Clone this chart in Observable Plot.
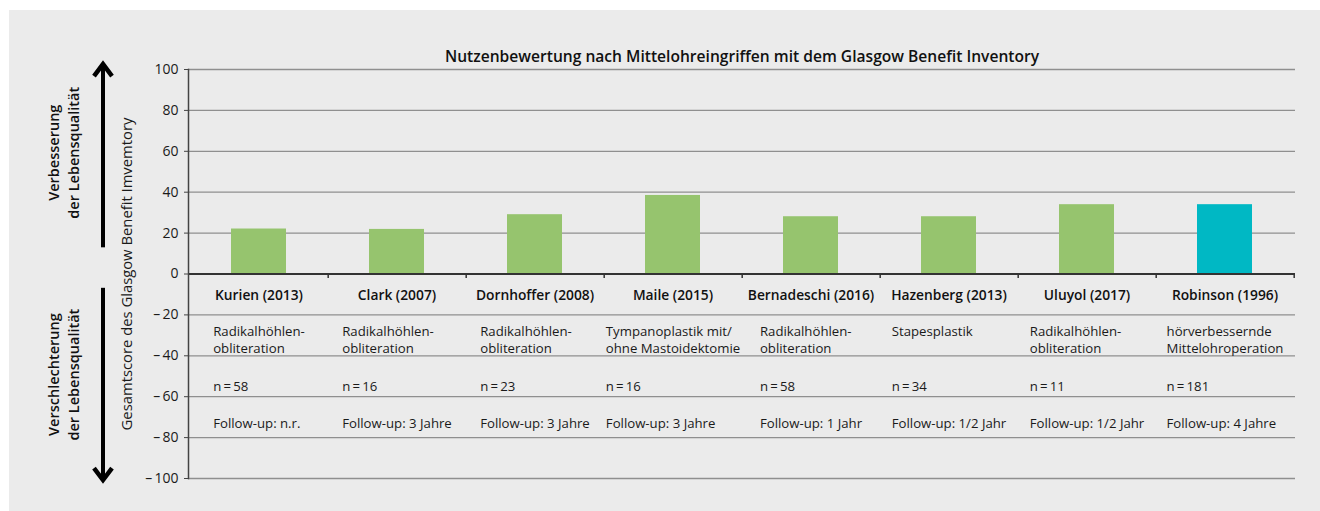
<!DOCTYPE html>
<html>
<head>
<meta charset="utf-8">
<script src="https://cdn.jsdelivr.net/npm/d3@7"></script>
<script src="https://cdn.jsdelivr.net/npm/@observablehq/plot@0.6"></script>
<style>
  html, body { margin: 0; padding: 0; background: #ffffff; }
  #panel { position: absolute; left: 9px; top: 10px; width: 1311px; height: 501px; background: #ebebeb; }
</style>
</head>
<body>
<div id="panel"></div>
<script>
// ---------- data ----------
const studies = ["Kurien (2013)", "Clark (2007)", "Dornhoffer (2008)", "Maile (2015)", "Bernadeschi (2016)", "Hazenberg (2013)", "Uluyol (2017)", "Robinson (1996)"];
const scores = [22, 21.8, 29, 38.4, 28, 28, 33.9, 33.9];
const procedures = [
  "Radikalhöhlen-\nobliteration",
  "Radikalhöhlen-\nobliteration",
  "Radikalhöhlen-\nobliteration",
  "Tympanoplastik mit/\nohne Mastoidektomie",
  "Radikalhöhlen-\nobliteration",
  "Stapesplastik",
  "Radikalhöhlen-\nobliteration",
  "hörverbessernde\nMittelohroperation"
];
const sampleSizes = [58, 16, 23, 16, 58, 34, 11, 181];
const followUps = ["n.r.", "3 Jahre", "3 Jahre", "3 Jahre", "1 Jahr", "1/2 Jahr", "1/2 Jahr", "4 Jahre"];
const studyType = ["Mittelohr", "Mittelohr", "Mittelohr", "Mittelohr", "Mittelohr", "Mittelohr", "Mittelohr", "Referenz"];
const yTicks = [-100, -80, -60, -40, -20, 0, 20, 40, 60, 80, 100];

const titleText = "Nutzenbewertung nach Mittelohreingriffen mit dem Glasgow Benefit Inventory";
const yLabel = "Gesamtscore des Glasgow Benefit Imvemtory";
const upLabel = "Verbesserung\nder Lebensqualität";
const downLabel = "Verschlechterung\nder Lebensqualität";

// ---------- layout constants ----------
const FONT = "Open Sans";
const W = 1311, H = 501, ML = 179, MR = 25, MT = 59, MB = 33;
const GREEN = "#96c46e", TEAL = "#00b8c4";
const rowY = {name: -10.6, desc1: -28.2, desc2: -36.5, n: -55.1, follow: -73.2};
const TABLE_FS = 13.2;

const bars = studies.map((s, i) => ({study: s, score: scores[i], type: studyType[i]}));

// table rows
const rows = [];
studies.forEach((s, i) => {
  const lines = procedures[i].split("\n");
  rows.push({study: s, y: rowY.desc1, text: lines[0]});
  if (lines[1]) rows.push({study: s, y: rowY.desc2, text: lines[1]});
  rows.push({study: s, y: rowY.n, text: "n\u2009=\u2009" + sampleSizes[i]});
  rows.push({study: s, y: rowY.follow, text: "Follow-up: " + followUps[i]});
});

// measure widths for centering each column's text block
const ctx = document.createElement("canvas").getContext("2d");
ctx.font = `${TABLE_FS}px "${FONT}"`;
const blockWidth = s => d3.max(rows.filter(r => r.study === s), r => ctx.measureText(r.text).width);

const step = (W - ML - MR) / studies.length;

const columnMarks = studies.map(s =>
  Plot.text(rows.filter(r => r.study === s), {
    x: "study", y: "y", text: "text", textAnchor: "start",
    dx: -blockWidth(s) / 2, fontSize: TABLE_FS, fill: "#1a1a1a"
  })
);

const plot = Plot.plot({
  width: W, height: H,
  marginLeft: ML, marginRight: MR, marginTop: MT, marginBottom: MB,
  style: {background: "transparent", fontFamily: FONT, overflow: "visible"},
  x: {domain: studies, paddingInner: 0.6, paddingOuter: 0.3, axis: null},
  y: {domain: [-100, 100], axis: null},
  color: {domain: ["Mittelohr", "Referenz"], range: [GREEN, TEAL]},
  marks: [
    Plot.gridY(yTicks, {stroke: "#8f8f8f", strokeOpacity: 1, strokeWidth: 1.3}),
    Plot.barY(bars, {x: "study", y: "score", fill: "type"}),
    Plot.ruleY([0], {stroke: "#333", strokeWidth: 2}),
    Plot.ruleX(studies, {x: d => d, y1: 0, y2: -2.2, dx: step / 2, stroke: "#333", strokeWidth: 1.5}),
    Plot.axisY(yTicks, {
      anchor: "left", tickSize: 4, tickPadding: 6, fontSize: 14, stroke: "#444", fill: "#1a1a1a",
      label: null,
      tickFormat: d => d < 0 ? "\u2013\u2009" + Math.abs(d) : String(d)
    }),
    Plot.frame({anchor: "left", stroke: "#444", strokeWidth: 1.5}),
    Plot.text(studies, {x: d => d, y: rowY.name, text: d => d, fontSize: 13.8, fontWeight: 600, fill: "#111"}),
    ...columnMarks,
    Plot.text([titleText], {frameAnchor: "top", text: d => d, dy: -19, fontSize: 15.6, fontWeight: 600, fill: "#111"}),
    Plot.text([yLabel], {frameAnchor: "left", y: 0, text: d => d, rotate: -90, textAnchor: "middle", dx: -61.5, fontSize: 14.8, fill: "#1a1a1a"}),
    Plot.text([upLabel], {frameAnchor: "left", y: 59.3, text: d => d, rotate: -90, textAnchor: "middle", dx: -125.5, fontSize: 14.5, fontWeight: 600, lineHeight: 1.35, fill: "#111"}),
    Plot.text([downLabel], {frameAnchor: "left", y: -49.2, text: d => d, rotate: -90, textAnchor: "middle", dx: -125.5, fontSize: 14.5, fontWeight: 600, lineHeight: 1.35, fill: "#111"})
  ]
});

document.getElementById("panel").appendChild(plot);

// annotation arrows, positioned with the plot's y scale
const ys = plot.scale("y");
const svg = d3.select(plot);
const ax = ML - 85;
function arrow(fromV, toV) {
  const y0 = ys.apply(fromV), y1 = ys.apply(toV);
  const dir = y1 < y0 ? 1 : -1; // head offset direction
  const g = svg.append("g").attr("stroke", "#000").attr("fill", "none");
  g.append("line").attr("x1", ax).attr("x2", ax).attr("y1", y0).attr("y2", y1 + dir * 2).attr("stroke-width", 4);
  g.append("polyline")
    .attr("points", `${ax - 9},${y1 + dir * 14} ${ax},${y1 + dir * 2} ${ax + 9},${y1 + dir * 14}`)
    .attr("stroke-width", 4.5).attr("stroke-linejoin", "miter").attr("stroke-linecap", "butt");
}
arrow(12.8, 103.4);
arrow(-7, -102);
</script>
</body>
</html>
